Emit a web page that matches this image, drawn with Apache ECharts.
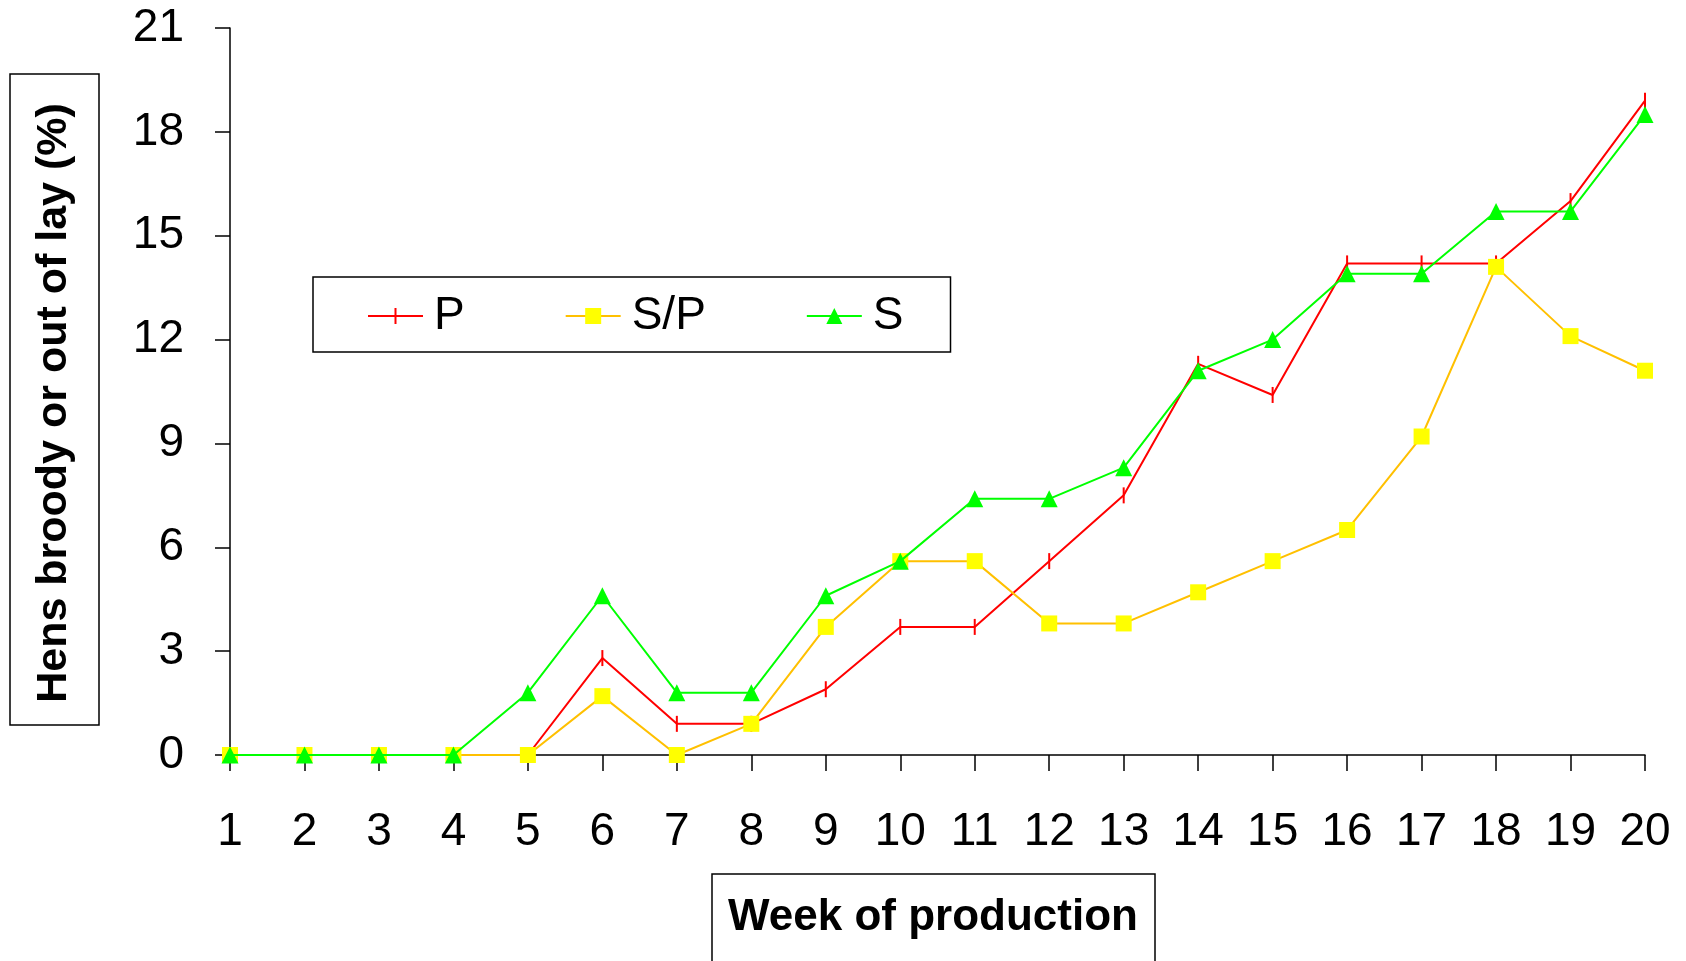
<!DOCTYPE html>
<html>
<head>
<meta charset="utf-8">
<title>Hens broody or out of lay</title>
<script src="https://cdn.jsdelivr.net/npm/echarts@6/dist/echarts.min.js"></script>
<style>
  html, body { margin: 0; padding: 0; background: #ffffff; }
  #chart { width: 1686px; height: 961px; }
</style>
</head>
<body>
<div id="chart"></div>
<script>
// Weeks of production (x axis categories)
const weeks = ['1','2','3','4','5','6','7','8','9','10','11','12','13','14','15','16','17','18','19','20'];

// Percentage of hens broody or out of lay, per treatment group
const seriesP  = [0, 0, 0, 0, 0, 2.8, 0.9, 0.9, 1.9, 3.7, 3.7, 5.6, 7.5, 11.3, 10.4, 14.2, 14.2, 14.2, 16.0, 18.9];
const seriesSP = [0, 0, 0, 0, 0, 1.7, 0, 0.9, 3.7, 5.6, 5.6, 3.8, 3.8, 4.7, 5.6, 6.5, 9.2, 14.1, 12.1, 11.1];
const seriesS  = [0, 0, 0, 0, 1.8, 4.6, 1.8, 1.8, 4.6, 5.6, 7.4, 7.4, 8.3, 11.1, 12.0, 13.9, 13.9, 15.7, 15.7, 18.5];

// Y axis tick range
const yMin = 0;
const yMax = 21;
const yStep = 3;

const FONT = '"Liberation Sans", Arial, Helvetica, sans-serif';

// Legend icon for P: a horizontal line crossed by the vertical dash marker
const crossIcon = 'path://M0,9H55V11H0Z M26.5,2H28.5V18H26.5Z';

const chart = echarts.init(document.getElementById('chart'), null, { renderer: 'canvas' });

chart.setOption({
  animation: false,
  backgroundColor: '#ffffff',
  grid: { left: 230, right: 41, top: 28, bottom: 206, containLabel: false },
  legend: {
    left: 313,
    top: 277,
    orient: 'horizontal',
    padding: [15, 47, 12, 55],
    borderColor: '#000000',
    borderWidth: 1.5,
    itemWidth: 55,
    itemHeight: 20,
    itemGap: 100,
    textStyle: {
      fontFamily: FONT,
      fontSize: 46,
      color: '#000000',
      lineHeight: 48,
      padding: [0, 0, 0, 6]
    },
    data: [
      { name: 'P', icon: crossIcon, itemStyle: { color: '#FF0000' } },
      'S/P',
      'S'
    ]
  },
  xAxis: {
    type: 'category',
    data: weeks,
    boundaryGap: false,
    axisLine: { show: true, lineStyle: { color: '#000000', width: 1.5 } },
    axisTick: { show: true, alignWithLabel: true, length: 16, inside: false, lineStyle: { color: '#000000', width: 1.5 } },
    axisLabel: { fontFamily: FONT, fontSize: 46, color: '#000000', margin: 54, interval: 0 },
    splitLine: { show: false }
  },
  yAxis: {
    type: 'value',
    min: yMin,
    max: yMax,
    interval: yStep,
    axisLine: { show: true, lineStyle: { color: '#000000', width: 1.5 } },
    axisTick: { show: true, length: 15, inside: false, lineStyle: { color: '#000000', width: 1.5 } },
    axisLabel: { fontFamily: FONT, fontSize: 46, color: '#000000', margin: 46 },
    splitLine: { show: false }
  },
  graphic: [
    {
      type: 'rect',
      shape: { x: 10, y: 74, width: 89, height: 651 },
      style: { fill: null, stroke: '#000000', lineWidth: 1.5 },
      silent: true
    },
    {
      type: 'text',
      x: 54,
      y: 403,
      rotation: Math.PI / 2,
      style: {
        text: 'Hens broody or out of lay (%)',
        font: 'bold 43px ' + FONT,
        fill: '#000000',
        textAlign: 'center',
        textVerticalAlign: 'middle'
      },
      silent: true
    },
    {
      type: 'rect',
      shape: { x: 712, y: 874, width: 443, height: 120 },
      style: { fill: null, stroke: '#000000', lineWidth: 1.5 },
      silent: true
    },
    {
      type: 'text',
      x: 933,
      y: 918,
      style: {
        text: 'Week of production',
        font: 'bold 44px ' + FONT,
        fill: '#000000',
        textAlign: 'center',
        textVerticalAlign: 'middle'
      },
      silent: true
    }
  ],
  series: [
    {
      name: 'P',
      type: 'line',
      data: seriesP,
      symbol: 'rect',
      symbolSize: [2, 16],
      showAllSymbol: true,
      lineStyle: { color: '#FF0000', width: 2 },
      itemStyle: { color: '#FF0000' },
      z: 2
    },
    {
      name: 'S/P',
      type: 'line',
      data: seriesSP,
      symbol: 'rect',
      symbolSize: 16,
      showAllSymbol: true,
      lineStyle: { color: '#FFC000', width: 2 },
      itemStyle: { color: '#FFFF00' },
      z: 3
    },
    {
      name: 'S',
      type: 'line',
      data: seriesS,
      symbol: 'triangle',
      symbolSize: 17,
      showAllSymbol: true,
      lineStyle: { color: '#00FF00', width: 2 },
      itemStyle: { color: '#00FF00' },
      z: 4
    }
  ]
});
</script>
</body>
</html>
